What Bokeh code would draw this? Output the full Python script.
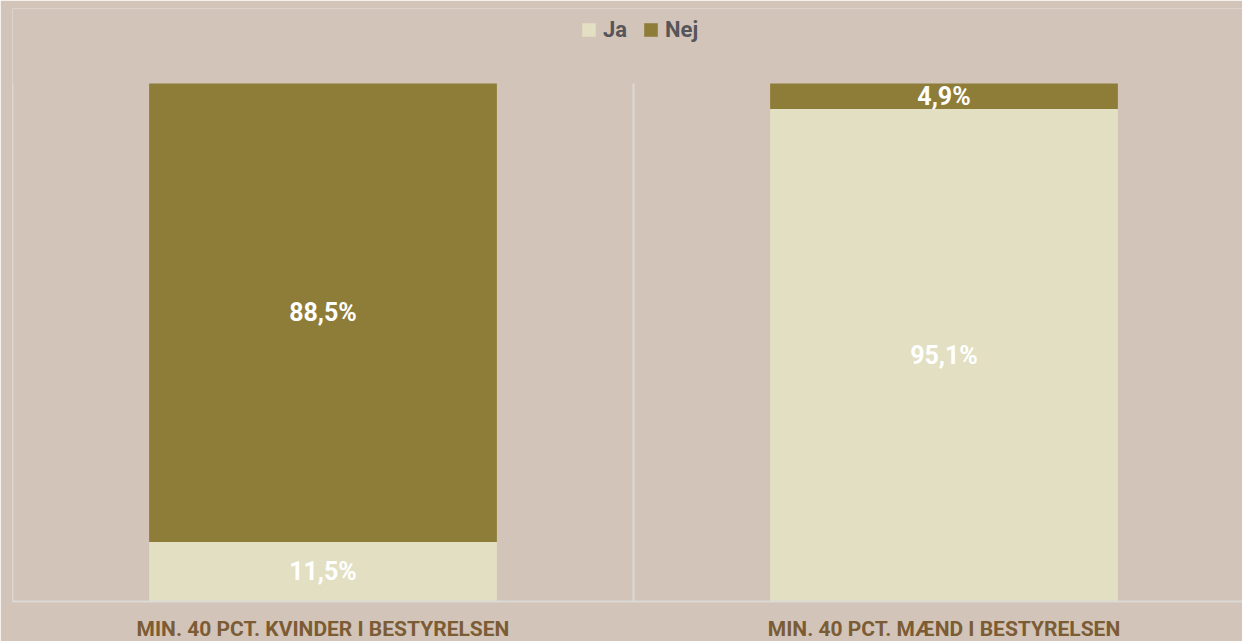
from bokeh.plotting import figure
from bokeh.models import ColumnDataSource, Range1d, FixedTicker, Legend, LegendItem
from bokeh.core.properties import value
from bokeh.embed import file_html
from bokeh.resources import INLINE

categories = ["MIN. 40 PCT. KVINDER I BESTYRELSEN", "MIN. 40 PCT. MÆND I BESTYRELSEN"]
ja = [11.5, 95.1]
nej = [88.5, 4.9]
series = ["Ja", "Nej"]

BG = "#D3C4B9"
C_JA = "#E3DFC2"
C_NEJ = "#8E7D38"
FONT = "Roboto"

xs = [i + 0.5 for i in range(len(categories))]
src = ColumnDataSource(dict(x=xs, Ja=ja, Nej=nej))

p = figure(frame_width=1230, frame_height=593, output_backend="svg", toolbar_location=None,
           x_range=Range1d(0, 1230 / 621), y_range=Range1d(0, 593 / 5.18),
           y_axis_location=None, min_border_left=12, min_border_right=0,
           min_border_top=8, min_border_bottom=10)
p.background_fill_color = BG
p.border_fill_color = BG
p.outline_line_color = None
p.xgrid.visible = False
p.ygrid.visible = False

# panel divider lines
p.segment(x0=list(range(len(categories))), y0=[0] * len(categories),
          x1=list(range(len(categories))), y1=[100] * len(categories),
          line_color="#DCDAD6", line_width=2)

r = p.vbar_stack(series, x="x", width=0.56, source=src, color=[C_JA, C_NEJ],
                 line_color=None)

# value labels
lx, ly, lt = [], [], []
for i in range(len(categories)):
    lx += [xs[i], xs[i]]
    ly += [ja[i] / 2, ja[i] + nej[i] / 2]
    lt += [f"{ja[i]:.1f}%".replace(".", ","), f"{nej[i]:.1f}%".replace(".", ",")]
p.text(x=lx, y=ly, text=lt, text_color="white", text_font=value(FONT),
       text_font_style="bold", text_font_size="25px", text_align="center",
       text_baseline="middle")

legend = Legend(items=[LegendItem(label=s, renderers=[rr]) for s, rr in zip(series, r)],
                location=(568, 559), orientation="horizontal")
legend.background_fill_alpha = 0
legend.border_line_color = None
legend.label_text_font = FONT
legend.label_text_font_style = "bold"
legend.label_text_font_size = "22px"
legend.label_text_color = "#55555A"
legend.glyph_width = 17
legend.glyph_height = 17
legend.spacing = 15
legend.label_standoff = 6
legend.padding = 0
legend.margin = 0
p.add_layout(legend)

ax = p.xaxis[0]
ax.ticker = FixedTicker(ticks=xs)
ax.major_label_overrides = {x: c for x, c in zip(xs, categories)}
ax.major_tick_line_color = None
ax.minor_tick_line_color = None
ax.axis_line_color = "#DCDAD6"
ax.axis_line_width = 2
ax.major_label_standoff = 9
ax.major_label_text_font = FONT
ax.major_label_text_font_style = "bold"
ax.major_label_text_font_size = "21px"
ax.major_label_text_color = "#7B5C35"

open("out.html", "w").write(file_html(p, INLINE))
